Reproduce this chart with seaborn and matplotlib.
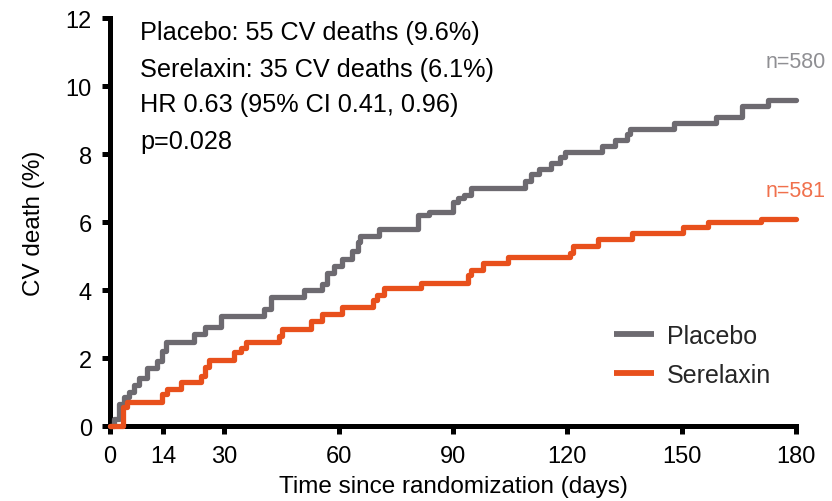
import matplotlib
matplotlib.use("Agg")
import matplotlib.pyplot as plt
import seaborn as sns
import pandas as pd

# Kaplan-Meier style cumulative CV death (%), step points (day, %)
placebo_days = [0, 1.0, 2.4, 3.7, 5.0, 6.3, 7.6, 9.7, 12.4, 13.7, 14.6, 22.0, 24.8,
                29.0, 40.5, 42.3, 51.0, 55.7, 57.0, 58.9, 61.0, 63.6, 65.0, 65.7,
                70.7, 80.7, 83.8, 90.0, 91.2, 93.0, 94.8, 108.8, 110.5, 112.7,
                115.8, 118.0, 119.3, 129.0, 132.4, 135.6, 136.4, 148.0, 159.0,
                165.8, 172.6, 180]
placebo_pct = [0, 0.2, 0.65, 0.85, 1.0, 1.2, 1.4, 1.7, 1.9, 2.2, 2.47, 2.7, 2.9,
               3.25, 3.45, 3.8, 4.0, 4.17, 4.5, 4.7, 4.9, 5.15, 5.4, 5.6,
               5.8, 6.2, 6.3, 6.6, 6.7, 6.8, 7.0, 7.2, 7.4, 7.55,
               7.75, 7.9, 8.05, 8.25, 8.4, 8.6, 8.75, 8.9, 9.1,
               9.4, 9.6, 9.6]

serelaxin_days = [0, 3.5, 4.5, 13.7, 15.0, 18.7, 24.0, 24.8, 26.0, 32.6, 34.4, 35.7,
                  44.4, 45.2, 52.8, 55.7, 61.0, 68.9, 70.0, 72.0, 81.7, 93.9, 94.8,
                  97.8, 104.5, 120.6, 121.4, 128.0, 136.9, 150.3, 156.8, 170.8, 180]
serelaxin_pct = [0, 0.55, 0.7, 0.95, 1.08, 1.28, 1.47, 1.73, 1.95, 2.17, 2.3, 2.47,
                 2.65, 2.85, 3.1, 3.3, 3.5, 3.7, 3.85, 4.05, 4.2, 4.45, 4.6,
                 4.78, 4.96, 5.1, 5.3, 5.5, 5.67, 5.85, 6.0, 6.1, 6.1]

groups = ["Placebo", "Serelaxin"]
n_at_risk = ["n=580", "n=581"]
stats_lines = ["Placebo: 55 CV deaths (9.6%)",
               "Serelaxin: 35 CV deaths (6.1%)",
               "HR 0.63 (95% CI 0.41, 0.96)",
               "p=0.028"]
x_ticks = [0, 14, 30, 60, 90, 120, 150, 180]
y_ticks = [0, 2, 4, 6, 8, 10, 12]

df = pd.concat([
    pd.DataFrame({"day": placebo_days, "pct": placebo_pct, "group": groups[0]}),
    pd.DataFrame({"day": serelaxin_days, "pct": serelaxin_pct, "group": groups[1]}),
], ignore_index=True)

sns.set_theme(style="ticks")
plt.rcParams["font.family"] = ["Liberation Sans", "DejaVu Sans"]

line_colors = {"Placebo": "#6d6a70", "Serelaxin": "#e8501c"}
label_colors = ["#8f8f93", "#f0704c"]

fig = plt.figure(figsize=(8.32, 5.02), dpi=100)
ax = fig.add_axes([0.1322, 0.1494, 0.8245, 0.8127])

sns.lineplot(data=df, x="day", y="pct", hue="group", palette=line_colors,
             estimator=None, drawstyle="steps-post", linewidth=3.8,
             ax=ax, zorder=3, clip_on=False)

ax.set_xlim(0, 180)
ax.set_ylim(0, 12)
ax.set_xticks(x_ticks)
ax.set_yticks(y_ticks)
ax.tick_params(axis="both", which="major", direction="out", length=6, width=3.6,
               color="black", labelsize=17, labelcolor="black")
ax.tick_params(axis="y", pad=7)
ax.tick_params(axis="x", pad=8)
for side in ("left", "bottom"):
    ax.spines[side].set_linewidth(3.6)
    ax.spines[side].set_color("black")
sns.despine(ax=ax)

ax.set_xlabel("Time since randomization (days)", fontsize=17.5, labelpad=5.5, color="black")
ax.set_ylabel("CV death (%)", fontsize=17.5, labelpad=15, color="black")

# statistics block
y_pos = [11.59, 10.5, 9.47, 8.38]
for txt, yy in zip(stats_lines, y_pos):
    ax.text(7.9, yy, txt, fontsize=18.2, ha="left", va="center", color="black")

# numbers at risk at curve ends
ax.text(172.0, 10.72, n_at_risk[0], fontsize=15.5, ha="left", va="center",
        color=label_colors[0], clip_on=False)
ax.text(172.0, 6.92, n_at_risk[1], fontsize=15.5, ha="left", va="center",
        color=label_colors[1], clip_on=False)

sns.move_legend(ax, loc="upper left", bbox_to_anchor=(0.735, 0.25), title=None,
                frameon=False, fontsize=18, handlelength=1.6, handletextpad=0.5,
                labelspacing=0.6, borderaxespad=0, borderpad=0)
for h in ax.get_legend().get_lines():
    h.set_linewidth(4.2)
    h.set_solid_capstyle("butt")

fig.savefig("out.png", dpi=100)
